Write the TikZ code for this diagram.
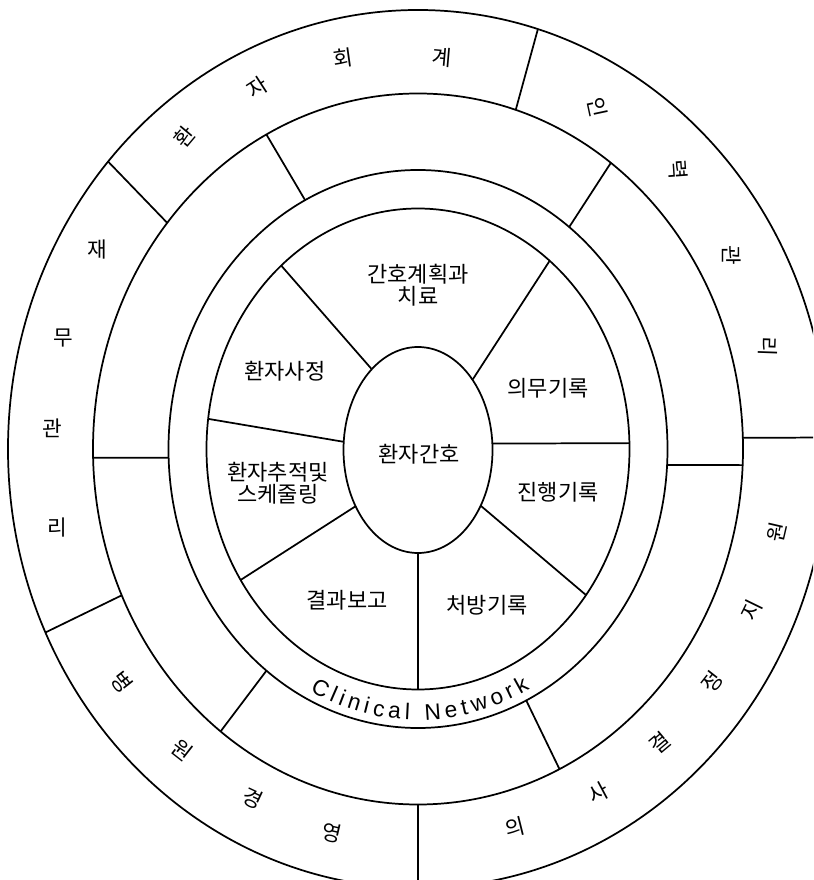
\documentclass[tikz,border=0pt]{standalone}
\usepackage{fontspec}
\setmainfont{Noto Sans CJK KR}
\newfontfamily\netfont{Liberation Sans}
\usetikzlibrary{decorations.text}

\begin{document}
\begin{tikzpicture}[x=0.75pt,y=0.75pt,line width=1.3pt,
  every node/.style={align=center,font=\fontsize{16.5}{16.5}\selectfont},
  ringchar/.style={font=\fontsize{16}{16}\selectfont,inner sep=0pt}]
  \useasboundingbox (-418,-431) rectangle (395,449);
  \clip (-418,-431) rectangle (395,449);
  \draw (0,0) ellipse [x radius=410,y radius=439];
  \draw (0,0) ellipse [x radius=325,y radius=355.5];
  \draw (0,0) ellipse [x radius=249.5,y radius=279];
  \draw (0,0) ellipse [x radius=211.5,y radius=240.5];
  \draw (0,-1) ellipse [x radius=74.5,y radius=103];

  \draw (73:410 and 439) -- (72.5:325 and 355.5);
  \draw (139.1:410 and 439) -- (140.5:325 and 355.5);
  \draw (204.7:410 and 439) -- (204.3:325 and 355.5);
  \draw (270:410 and 439) -- (270:325 and 355.5);
  \draw (1.5:410 and 439) -- (1.8:325 and 355.5);

  \draw (117.8:325 and 355.5) -- (116.9:249.5 and 279);
  \draw (53.6:325 and 355.5) -- (52.7:249.5 and 279);
  \draw (181.4:325 and 355.5) -- (181.8:249.5 and 279);
  \draw (-2.6:325 and 355.5) -- (-3.3:249.5 and 279);
  \draw (232.6:325 and 355.5) -- (232.6:249.5 and 279);
  \draw (-64.2:325 and 355.5) -- (-64.3:249.5 and 279);

  \draw (130.3:211.5 and 240.5) -- (128.8:74.5 and 103);
  \draw (51.5:211.5 and 240.5) -- (42.6:74.5 and 103);
  \draw (1.4:211.5 and 240.5) -- (3:74.5 and 103);
  \draw (-37.4:211.5 and 240.5) -- (-33.2:74.5 and 103);
  \draw (-90:211.5 and 240.5) -- (-90:74.5 and 103);
  \draw (213:211.5 and 240.5) -- (213.6:74.5 and 103);
  \draw (172.8:211.5 and 240.5) -- (176:74.5 and 103);

  \node (care) at (1,-5) {환자간호};
  \node (plan) at (0,164) {간호계획과\\치료};
  \node (assess) at (-133,78) {환자사정};
  \node (record) at (130,61) {의무기록};
  \node (track) at (-140,-34) {환자추적및\\스케줄링};
  \node (progress) at (140,-43) {진행기록};
  \node (result) at (-71,-151) {결과보고};
  \node (order) at (69,-156) {처방기록};

  \path[decorate,decoration={text along path,text align=fit to path,
    text={|\netfont\fontsize{17}{17}\selectfont|Clinical Network}}]
    (-116.6:241.5 and 271) arc [start angle=-116.6,end angle=-62.4,x radius=241.5,y radius=271];

  \node[ringchar,rotate=50] (acc1) at (-233,312) {환};
  \node[ringchar,rotate=33] (acc2) at (-161,362) {자};
  \node[ringchar,rotate=8] (acc3) at (-75,391) {회};
  \node[ringchar,rotate=-5] (acc4) at (24,392) {계};

  \node[ringchar,rotate=-78] (staff1) at (180,342) {인};
  \node[ringchar,rotate=-86] (staff2) at (260,279) {력};
  \node[ringchar,rotate=-90] (staff3) at (314,194) {관};
  \node[ringchar,rotate=-92] (staff4) at (350,102) {리};

  \node[ringchar,rotate=14] (dss1) at (97,-378) {의};
  \node[ringchar,rotate=28] (dss2) at (180,-344) {사};
  \node[ringchar,rotate=40] (dss3) at (242,-294) {결};
  \node[ringchar,rotate=52] (dss4) at (294,-233) {정};
  \node[ringchar,rotate=64] (dss5) at (334,-161) {지};
  \node[ringchar,rotate=77] (dss6) at (359,-83) {원};

  \node[ringchar,rotate=-52] (mgmt1) at (-296,-233) {병};
  \node[ringchar,rotate=-38] (mgmt2) at (-236,-301) {원};
  \node[ringchar,rotate=-25] (mgmt3) at (-165,-349) {경};
  \node[ringchar,rotate=-13] (mgmt4) at (-86,-384) {영};

  \node[ringchar] (fin1) at (-321,199) {재};
  \node[ringchar] (fin2) at (-355,111) {무};
  \node[ringchar] (fin3) at (-366,21) {관};
  \node[ringchar] (fin4) at (-361,-79) {리};
\end{tikzpicture}
\end{document}
